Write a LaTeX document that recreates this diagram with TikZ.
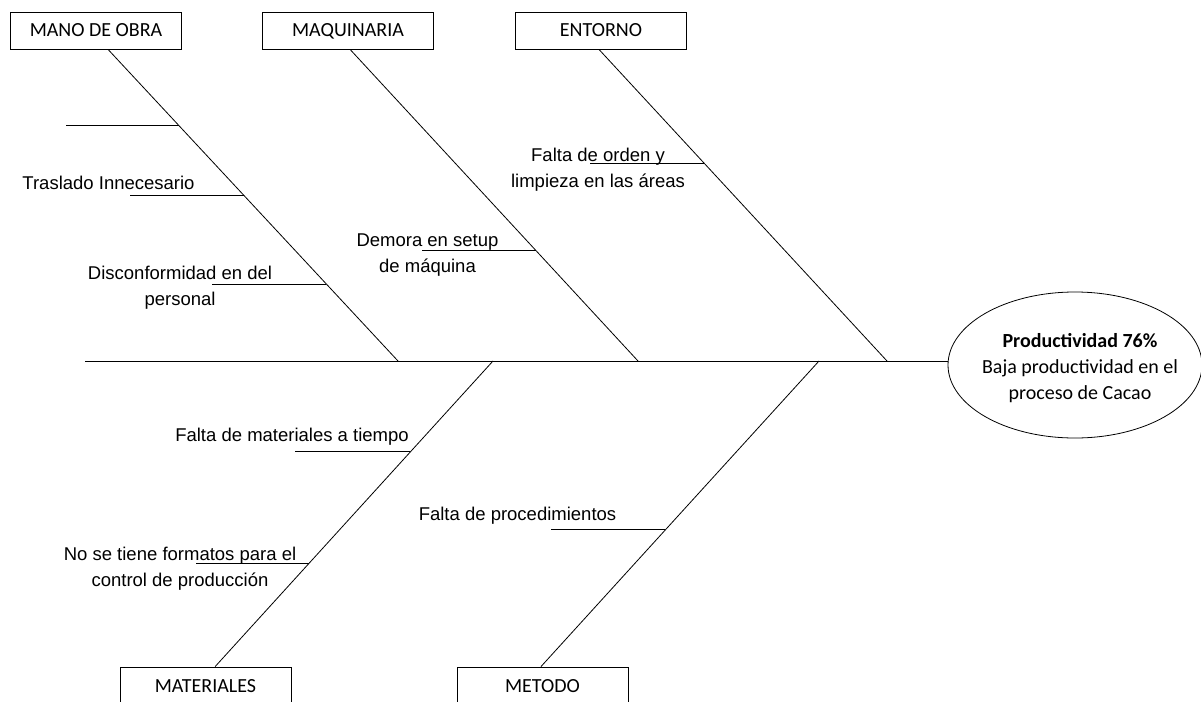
\documentclass[tikz,border=0pt]{standalone}
\usepackage{fontspec}
\setmainfont{Liberation Sans}
\newfontfamily\calfont{Carlito}
\usetikzlibrary{calc,shapes.geometric}
\begin{document}
\begin{tikzpicture}[x=1pt,y=-1pt,
  bone/.style={line width=0.8pt},
  catbox/.style={draw,line width=0.8pt,minimum width=171pt,minimum height=37pt,
    inner sep=0pt,text height=13pt,text depth=0pt,font=\calfont\fontsize{20}{24}\selectfont},
  cause/.style={font=\fontsize{18.5}{26}\selectfont,align=center,inner sep=0pt},
  effect/.style={draw,ellipse,line width=0.8pt,minimum width=254pt,minimum height=146pt,inner sep=0pt},
  effecttext/.style={align=center,inner sep=0pt,font=\calfont\fontsize{20}{26}\selectfont}]
\clip (0,0) rectangle (1201,701);
\fill[white] (0,0) rectangle (1201,701);

% category boxes
\node[catbox] (mano) at (96,30.5) {MANO DE OBRA};
\node[catbox] (maq) at (348,30.5) {MAQUINARIA};
\node[catbox] (ent) at (601,30.5) {ENTORNO};
\node[catbox,minimum height=38pt] (mat) at (205.5,686) {MATERIALES};
\node[catbox,minimum height=38pt] (met) at (542.5,686) {METODO};

% effect
\node[effect] (effect) at (1075,365) {};
\node[effecttext,anchor=base] (efftext) at (1080,399) {\textbf{Productividad 76\%}\\Baja productividad en el\\proceso de Cacao};

% spine
\coordinate (tail) at (85,361);
\draw[bone] (tail) -- (tail -| effect.west);

% junctions on the spine
\coordinate (m1) at (398,361);
\coordinate (m2) at (638,361);
\coordinate (m3) at (887,361);
\coordinate (m4) at (493,361);
\coordinate (m5) at (819,361);

% bone ends at the boxes
\coordinate (t1) at ($(mano.south west)!0.57!(mano.south east)$);
\coordinate (t2) at ($(maq.south west)!0.512!(maq.south east)$);
\coordinate (t3) at ($(ent.south west)!0.488!(ent.south east)$);
\coordinate (t4) at ($(mat.north west)!0.556!(mat.north east)$);
\coordinate (t5) at ($(met.north west)!0.491!(met.north east)$);

\draw[bone] (t1) -- (m1);
\draw[bone] (t2) -- (m2);
\draw[bone] (t3) -- (m3);
\draw[bone] (t4) -- (m4);
\draw[bone] (t5) -- (m5);

% sub-causes
\coordinate (r1) at ($(t1)!0.2436!(m1)$);
\coordinate (r2) at ($(t1)!0.4679!(m1)$);
\coordinate (r3) at ($(t1)!0.7532!(m1)$);
\coordinate (r4) at ($(t2)!0.6442!(m2)$);
\coordinate (r5) at ($(t3)!0.3654!(m3)$);
\coordinate (r6) at ($(m4)!0.2974!(t4)$);
\coordinate (r7) at ($(m4)!0.6634!(t4)$);
\coordinate (r8) at ($(m5)!0.5523!(t5)$);

\draw[bone] (r1) -- ++(-113,0) coordinate (l1);
\draw[bone] (r2) -- ++(-114,0) coordinate (l2);
\draw[bone] (r3) -- ++(-114,0) coordinate (l3);
\draw[bone] (r4) -- ++(-114,0) coordinate (l4);
\draw[bone] (r5) -- ++(-114,0) coordinate (l5);
\draw[bone] (r6) -- ++(-115,0) coordinate (l6);
\draw[bone] (r7) -- ++(-113,0) coordinate (l7);
\draw[bone] (r8) -- ++(-114,0) coordinate (l8);

\node[cause,anchor=base] (c2) at (108.5,189) {Traslado Innecesario};
\node[cause] (c3) at (180,288) {Disconformidad en del\\personal};
\node[cause] (c4) at (427.5,255) {Demora en setup\\de máquina};
\node[cause] (c5) at (598,170) {Falta de orden y\\limpieza en las áreas};
\node[cause,anchor=base] (c6) at (292,441) {Falta de materiales a tiempo};
\node[cause] (c7) at (180,569) {No se tiene formatos para el\\control de producción};
\node[cause,anchor=base] (c8) at (517.5,520) {Falta de procedimientos};
\end{tikzpicture}
\end{document}
